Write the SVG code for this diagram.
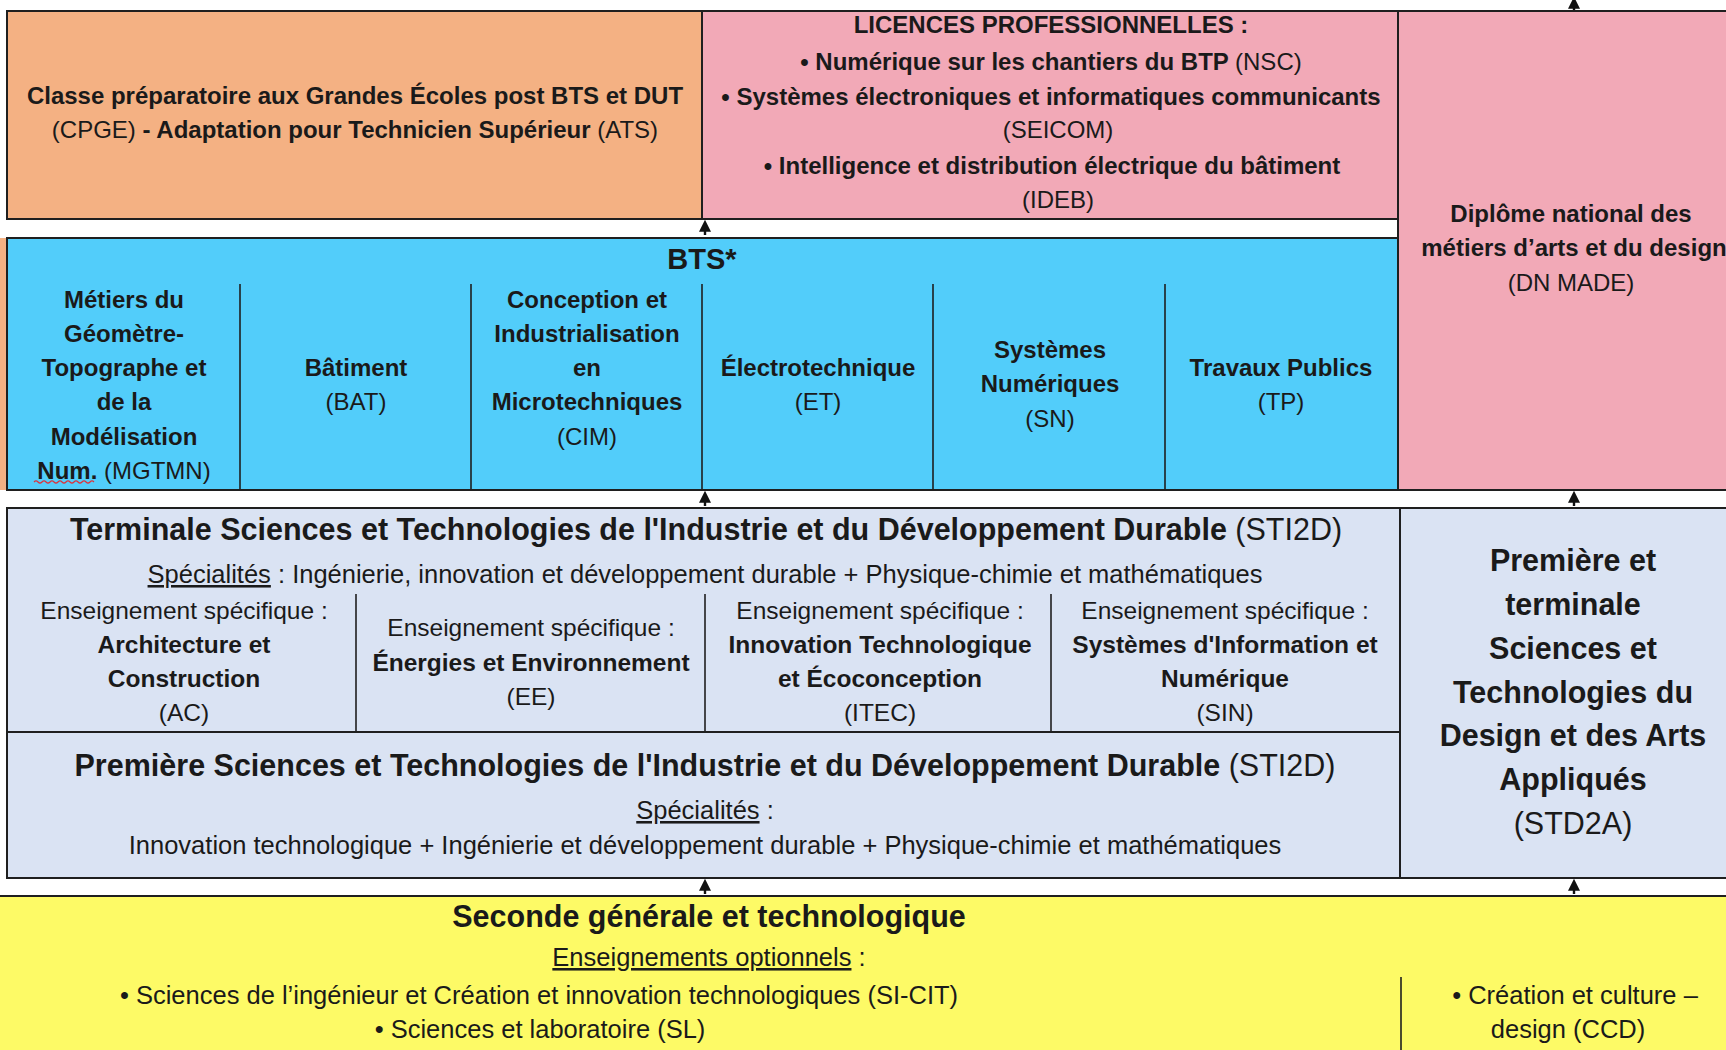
<svg xmlns="http://www.w3.org/2000/svg" width="1726" height="1050" viewBox="0 0 1726 1050">
<defs>
<style>
text{font-family:"Liberation Sans",Arial,sans-serif;fill:#1a1a1a;text-anchor:middle}
.b{font-weight:bold}
.r{font-weight:normal}
.s24{font-size:24px}
.s245{font-size:24.5px}
.s255{font-size:25.5px}
.s30{font-size:30.5px}
.box{stroke:#1f1f1f;stroke-width:2}
.div{stroke:#1f1f1f;stroke-width:1.6}
.u{text-decoration:underline}
.orange{fill:#F4B183}
.pink{fill:#F2A9B7}
.blue{fill:#52CDFA}
.light{fill:#DAE3F3}
.yellow{fill:#FDFA66}
.arrow{stroke:#111;stroke-width:2.4;marker-end:url(#ah)}
</style>
<marker id="ah" viewBox="0 0 10 10" refX="4" refY="5" markerWidth="5" markerHeight="5" orient="auto" markerUnits="strokeWidth">
<path d="M0,0 L10,5 L0,10 z" fill="#111"/>
</marker>
</defs>
<rect width="1726" height="1050" fill="#fff"/>

<g id="cpge">
<rect class="box orange" x="7" y="11" width="695" height="208"/>
<text class="s24 b" x="355" y="104">Classe préparatoire aux Grandes Écoles post BTS et DUT</text>
<text class="s24 b" x="355" y="138"><tspan class="r">(CPGE)</tspan> - Adaptation pour Technicien Supérieur <tspan class="r">(ATS)</tspan></text>
</g>

<g id="licences">
<rect class="box pink" x="702" y="11" width="696" height="208"/>
<text class="s24 b" x="1051" y="33">LICENCES PROFESSIONNELLES :</text>
<text class="s24 b" x="1051" y="70">• Numérique sur les chantiers du BTP <tspan class="r">(NSC)</tspan></text>
<text class="s24 b" x="1051" y="105">• Systèmes électroniques et informatiques communicants</text>
<text class="s24 r" x="1058" y="138">(SEICOM)</text>
<text class="s24 b" x="1052" y="174">• Intelligence et distribution électrique du bâtiment</text>
<text class="s24 r" x="1058" y="208">(IDEB)</text>
</g>

<g id="dnmade">
<rect class="box pink" x="1398" y="11" width="340" height="479"/>
<text class="s24 b" x="1571" y="222">Diplôme national des</text>
<text class="s24 b" x="1574" y="256">métiers d’arts et du design</text>
<text class="s24 r" x="1571" y="291">(DN MADE)</text>
</g>

<g id="bts">
<rect class="orange" x="0" y="238" width="7" height="252"/>
<rect class="box blue" x="7" y="238" width="1391" height="252"/>
<text class="b" style="font-size:29px" x="702" y="269">BTS*</text>
<line class="div" x1="240" y1="284" x2="240" y2="490"/>
<line class="div" x1="471" y1="284" x2="471" y2="490"/>
<line class="div" x1="702" y1="284" x2="702" y2="490"/>
<line class="div" x1="933" y1="284" x2="933" y2="490"/>
<line class="div" x1="1165" y1="284" x2="1165" y2="490"/>
<g id="bts-mgtmn">
<text class="s24 b" x="124" y="307.7">Métiers du</text>
<text class="s24 b" x="124" y="341.9">Géomètre-</text>
<text class="s24 b" x="124" y="376.1">Topographe et</text>
<text class="s24 b" x="124" y="410.3">de la</text>
<text class="s24 b" x="124" y="444.5">Modélisation</text>
<text class="s24 b" x="124" y="478.7">Num. <tspan class="r">(MGTMN)</tspan></text>
<path d="M34,482 q2,-2 4,0 t4,0 t4,0 t4,0 t4,0 t4,0 t4,0 t4,0 t4,0 t4,0 t4,0 t4,0 t4,0 t4,0 t4,0" fill="none" stroke="#d9343d" stroke-width="1.2"/>
</g>
<g id="bts-bat">
<text class="s24 b" x="356" y="376.1">Bâtiment</text>
<text class="s24 r" x="356" y="410.3">(BAT)</text>
</g>
<g id="bts-cim">
<text class="s24 b" x="587" y="307.7">Conception et</text>
<text class="s24 b" x="587" y="341.9">Industrialisation</text>
<text class="s24 b" x="587" y="376.1">en</text>
<text class="s24 b" x="587" y="410.3">Microtechniques</text>
<text class="s24 r" x="587" y="444.5">(CIM)</text>
</g>
<g id="bts-et">
<text class="s24 b" x="818" y="376.1">Électrotechnique</text>
<text class="s24 r" x="818" y="410.3">(ET)</text>
</g>
<g id="bts-sn">
<text class="s24 b" x="1050" y="358.2">Systèmes</text>
<text class="s24 b" x="1050" y="392.4">Numériques</text>
<text class="s24 r" x="1050" y="426.6">(SN)</text>
</g>
<g id="bts-tp">
<text class="s24 b" x="1281" y="376.1">Travaux Publics</text>
<text class="s24 r" x="1281" y="410.3">(TP)</text>
</g>
</g>

<g id="terminale">
<rect class="box light" x="7" y="508" width="1393" height="224"/>
<text class="s30 b" x="706" y="539.5">Terminale Sciences et Technologies de l'Industrie et du Développement Durable <tspan class="r">(STI2D)</tspan></text>
<text class="s255 r" x="705" y="583"><tspan class="u">Spécialités</tspan> : Ingénierie, innovation et développement durable + Physique-chimie et mathématiques</text>
<line class="div" x1="356" y1="594" x2="356" y2="732"/>
<line class="div" x1="705" y1="594" x2="705" y2="732"/>
<line class="div" x1="1051" y1="594" x2="1051" y2="732"/>
<g id="term-ac">
<text class="s245 r" x="184" y="618.5">Enseignement spécifique :</text>
<text class="s245 b" x="184" y="652.5">Architecture et</text>
<text class="s245 b" x="184" y="686.5">Construction</text>
<text class="s245 r" x="184" y="720.5">(AC)</text>
</g>
<g id="term-ee">
<text class="s245 r" x="531" y="635.5">Enseignement spécifique :</text>
<text class="s245 b" x="531" y="670.5">Énergies et Environnement</text>
<text class="s245 r" x="531" y="704.5">(EE)</text>
</g>
<g id="term-itec">
<text class="s245 r" x="880" y="618.5">Enseignement spécifique :</text>
<text class="s245 b" x="880" y="652.5">Innovation Technologique</text>
<text class="s245 b" x="880" y="686.5">et Écoconception</text>
<text class="s245 r" x="880" y="720.5">(ITEC)</text>
</g>
<g id="term-sin">
<text class="s245 r" x="1225" y="618.5">Enseignement spécifique :</text>
<text class="s245 b" x="1225" y="652.5">Systèmes d'Information et</text>
<text class="s245 b" x="1225" y="686.5">Numérique</text>
<text class="s245 r" x="1225" y="720.5">(SIN)</text>
</g>
</g>

<g id="premiere">
<rect class="box light" x="7" y="732" width="1393" height="146"/>
<text class="s30 b" x="705" y="775.5">Première Sciences et Technologies de l'Industrie et du Développement Durable <tspan class="r">(STI2D)</tspan></text>
<text class="s255 r" x="705" y="819"><tspan class="u">Spécialités</tspan> :</text>
<text class="s255 r" x="705" y="854">Innovation technologique + Ingénierie et développement durable + Physique-chimie et mathématiques</text>
</g>

<g id="std2a">
<rect class="box light" x="1400" y="508" width="340" height="370"/>
<text class="s30 b" x="1573" y="571.4">Première et</text>
<text class="s30 b" x="1573" y="615.1">terminale</text>
<text class="s30 b" x="1573" y="658.8">Sciences et</text>
<text class="s30 b" x="1573" y="702.5">Technologies du</text>
<text class="s30 b" x="1573" y="746.2">Design et des Arts</text>
<text class="s30 b" x="1573" y="789.9">Appliqués</text>
<text class="s30 r" x="1573" y="833.6">(STD2A)</text>
</g>

<g id="seconde">
<rect class="box yellow" x="-2" y="896" width="1740" height="160"/>
<text class="s30 b" x="709" y="926.5">Seconde générale et technologique</text>
<text class="s255 r" x="709" y="966"><tspan class="u">Enseignements optionnels</tspan> :</text>
<text class="s255 r" x="539" y="1004">• Sciences de l’ingénieur et Création et innovation technologiques (SI-CIT)</text>
<text class="s255 r" x="540" y="1038">• Sciences et laboratoire (SL)</text>
<line class="div" x1="1401" y1="977" x2="1401" y2="1050"/>
<text class="s255 r" x="1575" y="1004">• Création et culture –</text>
<text class="s255 r" x="1568" y="1038">design (CCD)</text>
</g>

<g id="connectors">
<line class="arrow" x1="1574" y1="10" x2="1574" y2="4"/>
<line class="arrow" x1="705" y1="235" x2="705" y2="227"/>
<line class="arrow" x1="705" y1="506" x2="705" y2="498"/>
<line class="arrow" x1="1574" y1="506" x2="1574" y2="498"/>
<line class="arrow" x1="705" y1="894" x2="705" y2="886"/>
<line class="arrow" x1="1574" y1="894" x2="1574" y2="886"/>
</g>
</svg>
